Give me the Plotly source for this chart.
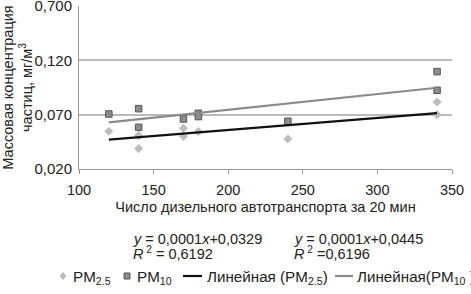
import plotly.graph_objects as go

# Data
pm10_x = [120, 140, 140, 170, 180, 180, 240, 340, 340]
pm10_y = [0.0706, 0.0755, 0.0583, 0.0660, 0.0712, 0.0682, 0.0639, 0.1096, 0.0924]
pm25_x = [120, 140, 140, 170, 170, 180, 240, 340, 340]
pm25_y = [0.0547, 0.0507, 0.0387, 0.0574, 0.0500, 0.0544, 0.0476, 0.0817, 0.0700]

# trend lines (slope, intercept) as drawn
trend_pm25 = (0.000111, 0.0337)
trend_pm10 = (0.000145, 0.0455)
trend_x = [120, 340]

y_tickvals = [0.020, 0.070, 0.120, 0.170]
y_ticktext = ["0,020", "0,070", "0,120", "0,700"]
x_tickvals = [100, 150, 200, 250, 300, 350]

FONT = "Liberation Sans, Arial, sans-serif"
FS = 14.5
W, H = 471, 294
L, R, T, B = 79, 19, 6, 125
PW, PH = W - L - R, H - T - B


def px(x):
    return (x - L) / PW


def py(y):
    return (H - B - y) / PH


fig = go.Figure()
fig.add_trace(go.Scatter(
    x=pm25_x, y=pm25_y, mode="markers", name="PM<sub>2.5</sub>",
    marker=dict(symbol="diamond", size=7, color="#bdbdbd", line=dict(width=0)),
))
fig.add_trace(go.Scatter(
    x=pm10_x, y=pm10_y, mode="markers", name="PM<sub>10</sub>",
    marker=dict(symbol="square", size=6.5, color="#8c8c8c", line=dict(width=1, color="#555555")),
))
fig.add_trace(go.Scatter(
    x=trend_x, y=[trend_pm25[0] * v + trend_pm25[1] for v in trend_x], mode="lines",
    name="Линейная (PM<sub>2.5</sub>)", line=dict(color="#111111", width=2.2),
))
fig.add_trace(go.Scatter(
    x=trend_x, y=[trend_pm10[0] * v + trend_pm10[1] for v in trend_x], mode="lines",
    name="Линейная(PM<sub>10</sub> )", line=dict(color="#8a8a8a", width=2.2),
))

fig.update_layout(
    width=W, height=H,
    margin=dict(l=L, r=R, t=T, b=B, autoexpand=False),
    paper_bgcolor="white", plot_bgcolor="white",
    font=dict(family=FONT, size=FS, color="#222222"),
    showlegend=False,
    xaxis=dict(range=[100, 350], tickvals=x_tickvals, showgrid=False, zeroline=False,
               showline=True, linecolor="#999999", linewidth=1, ticks="outside",
               ticklen=4, tickcolor="#999999", automargin=False,
               ticklabelstandoff=4, ticklabeloverflow="allow",
               tickfont=dict(size=FS),
               title=dict(text="Число дизельного автотранспорта за 20 мин", font=dict(size=FS), standoff=4)),
    yaxis=dict(range=[0.0199, 0.1701], tickvals=y_tickvals, ticktext=y_ticktext,
               showgrid=True, gridcolor="#bbbbbb", gridwidth=1.5, zeroline=False,
               showline=True, linecolor="#999999", linewidth=1, ticks="",
               automargin=False, ticklabelstandoff=3, ticklabeloverflow="allow",
               tickfont=dict(size=15),
               title=dict(text="Массовая концентрация<br>частиц, мг/м<sup>3</sup>", font=dict(size=FS), standoff=4)),
)

# regression equations
for xpix, ypix, txt in [
    (131, 239, "<i>y</i> = 0,0001<i>x</i>+0,0329"),
    (131, 253, "<i>R</i><sup> 2</sup> = 0,6192"),
    (292, 239, "<i>y</i> = 0,0001<i>x</i>+0,0445"),
    (292, 253, "<i>R</i><sup> 2</sup> =0,6196"),
]:
    fig.add_annotation(xref="paper", yref="paper", x=px(xpix), y=py(ypix),
                       xanchor="left", yanchor="middle", showarrow=False, align="left",
                       text=txt, font=dict(size=FS))

# legend (drawn as in the original: compact symbols right before the labels)
LY = 276
shapes = []
dx = 63
shapes.append(dict(type="path", xref="paper", yref="paper",
                   path=f"M {px(dx)},{py(LY-4)} L {px(dx+3.5)},{py(LY)} L {px(dx)},{py(LY+4)} L {px(dx-3.5)},{py(LY)} Z",
                   fillcolor="#bdbdbd", line=dict(width=0)))
sx = 127
shapes.append(dict(type="rect", xref="paper", yref="paper",
                   x0=px(sx - 3), x1=px(sx + 3), y0=py(LY + 3), y1=py(LY - 3),
                   fillcolor="#8c8c8c", line=dict(width=1, color="#555555")))
shapes.append(dict(type="line", xref="paper", yref="paper", x0=px(183), x1=px(202), y0=py(LY), y1=py(LY),
                   line=dict(color="#111111", width=2.2)))
shapes.append(dict(type="line", xref="paper", yref="paper", x0=px(335), x1=px(353), y0=py(LY), y1=py(LY),
                   line=dict(color="#8a8a8a", width=2.2)))
fig.update_layout(shapes=shapes)

for xpix, name in [(71, fig.data[0].name), (135, fig.data[1].name),
                   (205, fig.data[2].name), (355, fig.data[3].name)]:
    fig.add_annotation(xref="paper", yref="paper", x=px(xpix), y=py(LY + 1),
                       xanchor="left", yanchor="middle", showarrow=False, align="left",
                       text=name, font=dict(size=15.2))

fig.write_html("out.html", config={"displayModeBar": False},
               post_script="document.body.style.margin='0';")
